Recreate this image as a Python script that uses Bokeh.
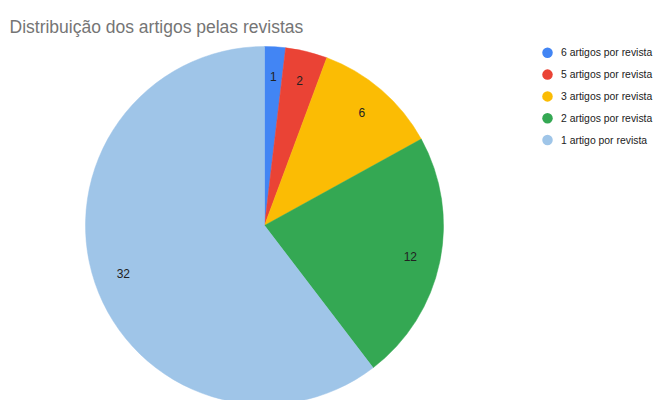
import math
from bokeh.plotting import figure
from bokeh.models import ColumnDataSource
from bokeh.core.properties import value
from bokeh.embed import file_html
from bokeh.resources import INLINE

categories = ["6 artigos por revista", "5 artigos por revista", "3 artigos por revista",
              "2 artigos por revista", "1 artigo por revista"]
counts = [1, 2, 6, 12, 32]
colors = ["#4285F4", "#EA4335", "#FBBC04", "#34A853", "#9FC5E8"]
title_text = "Distribuição dos artigos pelas revistas"

W, H = 656, 400
p = figure(width=W, height=H, x_range=(0, W), y_range=(0, H),
           output_backend="svg", toolbar_location=None, min_border=0)
p.axis.visible = False
p.grid.visible = False
p.outline_line_color = None
p.background_fill_color = "white"

def sy(y):  # screen y -> data y
    return H - y

def sx(x):
    return x

cx, cy, r = sx(264), sy(225), 179
total = sum(counts)
starts, ends, lx, ly = [], [], [], []
cum = 0
for c in counts:
    a0 = math.pi / 2 - 2 * math.pi * cum / total
    a1 = math.pi / 2 - 2 * math.pi * (cum + c) / total
    starts.append(a0)
    ends.append(a1)
    mid = (a0 + a1) / 2
    lx.append(cx + 149 * math.cos(mid))
    ly.append(cy + 149 * math.sin(mid))
    cum += c

src = ColumnDataSource(dict(start=starts, end=ends, color=colors,
                            lx=lx, ly=ly, lab=[str(c) for c in counts]))
p.wedge(x=cx, y=cy, radius=r, start_angle="start", end_angle="end",
        direction="clock", fill_color="color", line_color="color",
        line_width=0.5, source=src)
p.text(x="lx", y="ly", text="lab", source=src, text_align="center",
       text_baseline="middle", text_font=value("Liberation Sans"),
       text_font_size="12px", text_color="#222222")

# legend
leg_y = [sy(52.3 + 21.8 * i) for i in range(len(categories))]
lsrc = ColumnDataSource(dict(y=leg_y, color=colors, lab=categories))
p.scatter(x=sx(547), y="y", size=10.5, marker="circle", fill_color="color",
          line_color=None, source=lsrc)
p.text(x=sx(560.5), y="y", text="lab", source=lsrc, text_align="left",
       text_baseline="middle", text_font=value("Liberation Sans"),
       text_font_size="10.4px", text_color="#222222")

# title
p.text(x=[sx(9)], y=[sy(26)], text=[title_text], text_align="left",
       text_baseline="alphabetic", text_font=value("Liberation Sans"),
       text_font_size="17.5px", text_color="#757575")

open("out.html", "w").write(file_html(p, INLINE))
